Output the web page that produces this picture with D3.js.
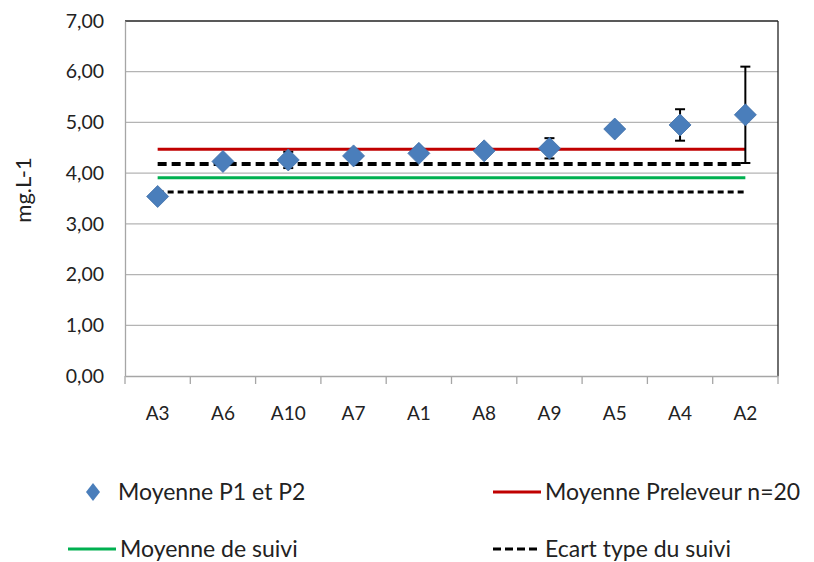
<!DOCTYPE html>
<html>
<head>
<meta charset="utf-8">
<script src="https://cdn.jsdelivr.net/npm/d3@7"></script>
<style>
  body { margin: 0; background: #fff; }
  text { font-family: Lato, "Open Sans", sans-serif; fill: #222; }
</style>
</head>
<body>
<div id="chart"></div>
<script>
// data
const categories = ["A3", "A6", "A10", "A7", "A1", "A8", "A9", "A5", "A4", "A2"];
const moyenneP1P2 = [3.54, 4.23, 4.26, 4.34, 4.39, 4.44, 4.49, 4.87, 4.95, 5.15];
const erreurP1P2 = [0, 0, 0.16, 0, 0, 0, 0.20, 0, 0.31, 0.95];
const moyennePreleveur = 4.47;
const moyenneSuivi = 3.91;
const ecartTypeSuivi = [4.18, 3.63];
const yTicks = [0, 1, 2, 3, 4, 5, 6, 7];

const width = 814,
    height = 562,
    margin = {top: 21, right: 36, bottom: 186, left: 125};

const svg = d3.select("#chart").append("svg")
    .attr("width", width)
    .attr("height", height);

const plotW = width - margin.left - margin.right,
    plotH = height - margin.top - margin.bottom;

const g = svg.append("g")
    .attr("transform", `translate(${margin.left},${margin.top})`);

// scales
const x = d3.scaleBand()
    .domain(categories)
    .range([0, plotW])
    .padding(0);

const y = d3.scaleLinear()
    .domain([0, 7])
    .range([plotH, 0]);

const fmt = d => d3.format(".2f")(d).replace(".", ",");
const cx = d => x(d) + x.bandwidth() / 2;

// gridlines
g.selectAll(".grid")
    .data(yTicks.slice(1, -1))
    .enter()
    .append("line")
        .attr("class", "grid")
        .attr("x1", 0)
        .attr("x2", plotW)
        .attr("y1", d => y(d))
        .attr("y2", d => y(d))
        .attr("stroke", "#b4b4b4")
        .attr("stroke-width", 1.3);

// frame: top and right darker
g.append("line")
    .attr("x1", 0).attr("x2", plotW)
    .attr("y1", y(7)).attr("y2", y(7))
    .attr("stroke", "#222").attr("stroke-width", 1.3);
g.append("line")
    .attr("x1", plotW).attr("x2", plotW)
    .attr("y1", y(7)).attr("y2", y(0))
    .attr("stroke", "#222").attr("stroke-width", 1.3);

// y axis
const yAxis = g.append("g")
    .call(d3.axisLeft(y).tickValues(yTicks).tickFormat(fmt).tickSize(0).tickPadding(21));
yAxis.select(".domain").attr("stroke", "#a6a6a6").attr("stroke-width", 1.3);
yAxis.selectAll("text")
    .attr("font-size", 19.5)
    .attr("font-family", "Lato, sans-serif")
    .attr("fill", "#222");

// x axis
const xAxis = g.append("g")
    .attr("transform", `translate(0,${plotH})`)
    .call(d3.axisBottom(x).tickSize(0).tickPadding(31));
xAxis.select(".domain").attr("stroke", "#a6a6a6").attr("stroke-width", 1.3);
xAxis.selectAll("text")
    .attr("font-size", 19)
    .attr("font-family", "Lato, sans-serif")
    .attr("fill", "#222");

g.selectAll(".xtick")
    .data(d3.range(categories.length + 1))
    .enter()
    .append("line")
        .attr("class", "xtick")
        .attr("x1", i => i * x.bandwidth())
        .attr("x2", i => i * x.bandwidth())
        .attr("y1", plotH)
        .attr("y2", plotH + 8)
        .attr("stroke", "#a6a6a6")
        .attr("stroke-width", 1.3);

// y label
svg.append("text")
    .attr("transform", `translate(31,190) rotate(-90)`)
    .attr("text-anchor", "middle")
    .attr("font-size", 22)
    .text("mg.L-1");

// reference lines
const x0 = cx(categories[0]),
    x1 = cx(categories[categories.length - 1]);

const refLines = [
    {v: moyennePreleveur, color: "#c00000", w: 3, dash: null},
    {v: ecartTypeSuivi[0], color: "#000", w: 4, dash: "9,5"},
    {v: moyenneSuivi, color: "#00b050", w: 3, dash: null},
    {v: ecartTypeSuivi[1], color: "#000", w: 3, dash: "6,4"}
];

g.selectAll(".ref")
    .data(refLines)
    .enter()
    .append("line")
        .attr("class", "ref")
        .attr("x1", x0)
        .attr("x2", x1)
        .attr("y1", d => y(d.v))
        .attr("y2", d => y(d.v))
        .attr("stroke", d => d.color)
        .attr("stroke-width", d => d.w)
        .attr("stroke-dasharray", d => d.dash);

// error bars
const errData = categories.map((c, i) => ({c, v: moyenneP1P2[i], e: erreurP1P2[i]}))
    .filter(d => d.e > 0);

const errG = g.selectAll(".err")
    .data(errData)
    .enter()
    .append("g")
        .attr("class", "err")
        .attr("stroke", "#000")
        .attr("stroke-width", 2);

errG.append("line")
    .attr("x1", d => cx(d.c)).attr("x2", d => cx(d.c))
    .attr("y1", d => y(d.v - d.e)).attr("y2", d => y(d.v + d.e));
errG.append("line")
    .attr("x1", d => cx(d.c) - 5).attr("x2", d => cx(d.c) + 5)
    .attr("y1", d => y(d.v + d.e)).attr("y2", d => y(d.v + d.e));
errG.append("line")
    .attr("x1", d => cx(d.c) - 5).attr("x2", d => cx(d.c) + 5)
    .attr("y1", d => y(d.v - d.e)).attr("y2", d => y(d.v - d.e));

// points
const diamond = "M0,-11L11,0L0,11L-11,0Z";

g.selectAll(".pt")
    .data(categories)
    .enter()
    .append("path")
        .attr("class", "pt")
        .attr("d", diamond)
        .attr("transform", (d, i) => `translate(${cx(d)},${y(moyenneP1P2[i])})`)
        .attr("fill", "#4a7ebb")
        .attr("stroke", "#3f6fa8")
        .attr("stroke-width", 0.8);

// legend
const legend = svg.append("g");
const legendItems = [
    {label: "Moyenne P1 et P2", type: "diamond", x: 93, y: 492},
    {label: "Moyenne Preleveur n=20", type: "line", color: "#c00000", dash: null, w: 3, x: 493, y: 492},
    {label: "Moyenne de suivi", type: "line", color: "#00b050", dash: null, w: 3, x: 68, y: 549},
    {label: "Ecart type du suivi", type: "line", color: "#000", dash: "8,4", w: 3, x: 493, y: 549}
];

legendItems.forEach(d => {
    if (d.type === "diamond") {
        legend.append("path")
            .attr("d", "M0,-9L7,0L0,9L-7,0Z")
            .attr("transform", `translate(${d.x},${d.y})`)
            .attr("fill", "#4a7ebb");
        legend.append("text")
            .attr("x", d.x + 25)
            .attr("y", d.y)
            .attr("dy", "0.35em")
            .attr("font-size", 23)
            .text(d.label);
    } else {
        legend.append("line")
            .attr("x1", d.x).attr("x2", d.x + 48)
            .attr("y1", d.y).attr("y2", d.y)
            .attr("stroke", d.color)
            .attr("stroke-width", d.w)
            .attr("stroke-dasharray", d.dash);
        legend.append("text")
            .attr("x", d.x + 52)
            .attr("y", d.y)
            .attr("dy", "0.35em")
            .attr("font-size", 23)
            .text(d.label);
    }
});
</script>
</body>
</html>
